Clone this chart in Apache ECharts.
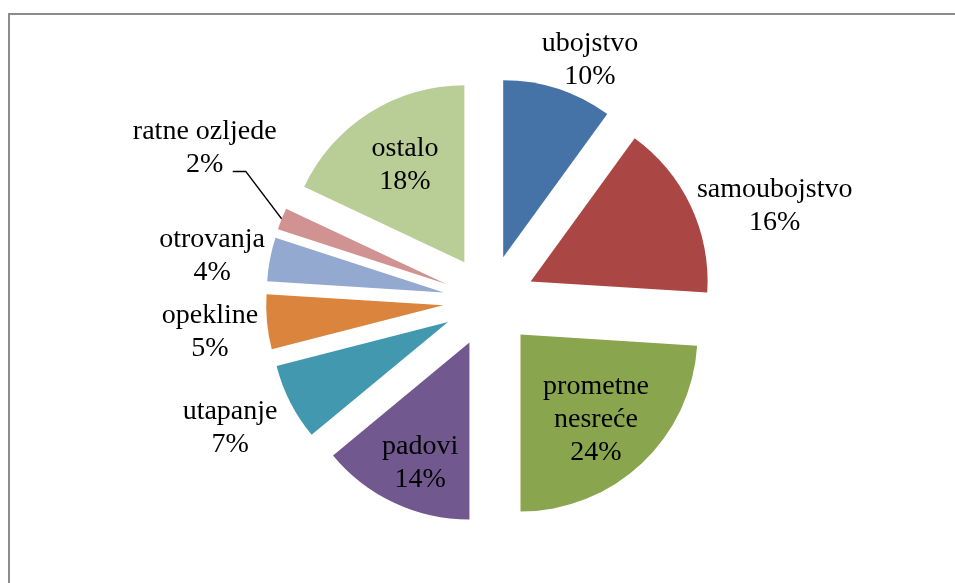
<!DOCTYPE html>
<html>
<head>
<meta charset="utf-8">
<script src="https://cdn.jsdelivr.net/npm/echarts@6/dist/echarts.min.js"></script>
<style>
  html, body { margin: 0; padding: 0; background: #fff; }
  #box { width: 955px; height: 583px; }
</style>
</head>
<body>
<div id="box"></div>
<script>
var pieChart = echarts.init(document.getElementById('box'));

var categories = ['ubojstvo', 'samoubojstvo', 'prometne\nnesreće', 'padovi', 'utapanje',
                  'opekline', 'otrovanja', 'ratne ozljede', 'ostalo'];
var shares = [10, 16, 24, 14, 7, 5, 4, 2, 18];
var colors = ['#4572A7', '#AA4643', '#89A54E', '#71588F', '#4198AF',
              '#DB843D', '#93A9CF', '#D19392', '#B9CD96'];

var cx = 489, cy = 301, pieR = 177, explode = 46;
// label line lengths [length, length2] used to put each label where it sits
var labelLens = [[30.4, -30.5], [0, 1.2], [-59.8, -62.6], [-44, -50.4], [56.8, -42.8],
                 [106, -101.7], [17, -16.7], [0, 0], [-61.9, -40.8]];

var pieData = categories.map(function(name, i) {
  var item = {
    name: name,
    value: shares[i],
    selected: true,
    itemStyle: { color: colors[i] },
    labelLine: {
      show: name === 'ratne ozljede',
      length: labelLens[i][0],
      length2: labelLens[i][1]
    }
  };
  if (name === 'ratne ozljede') {
    item.label = { padding: [0, 0, 141, 0] };
  }
  return item;
});

option = {
  animation: false,
  graphic: [{
    type: 'rect',
    shape: { x: 9, y: 14, width: 1000, height: 700 },
    style: { fill: 'none', stroke: '#8c8c8c', lineWidth: 2 },
    silent: true
  }],
  series: [{
    type: 'pie',
    center: [cx, cy],
    radius: pieR,
    startAngle: 90,
    clockwise: true,
    selectedMode: 'multiple',
    selectedOffset: explode,
    avoidLabelOverlap: false,
    itemStyle: { borderWidth: 0 },
    select: { itemStyle: { borderWidth: 0 } },
    emphasis: { disabled: true },
    label: {
      show: true,
      position: 'outside',
      formatter: '{n|{b}}\n{n|{d}%}',
      color: '#000',
      fontFamily: 'Liberation Serif',
      fontSize: 28,
      lineHeight: 33,
      rich: {
        n: { align: 'center', fontFamily: 'Liberation Serif', fontSize: 28, lineHeight: 33, color: '#000' }
      }
    },
    labelLine: {
      lineStyle: { color: '#000', width: 1.5 }
    },
    // leader for the small slice: short flat piece beside "2%", then down to the slice
    // (label rect and line points are both in the un-exploded frame here)
    labelLayout: function(params) {
      if (categories[params.dataIndex] !== 'ratne ozljede' || !params.labelLinePoints) {
        return { hideOverlap: false };
      }
      var rect = params.labelRect;
      var p0 = params.labelLinePoints[0];
      var endX = rect.x + rect.width / 2 + 28;
      var endY = rect.y + 56;
      return {
        hideOverlap: false,
        labelLinePoints: [
          [p0[0], p0[1]],
          [endX + 13, endY],
          [endX, endY]
        ]
      };
    },
    data: pieData
  }]
};

pieChart.setOption(option);
</script>
</body>
</html>
